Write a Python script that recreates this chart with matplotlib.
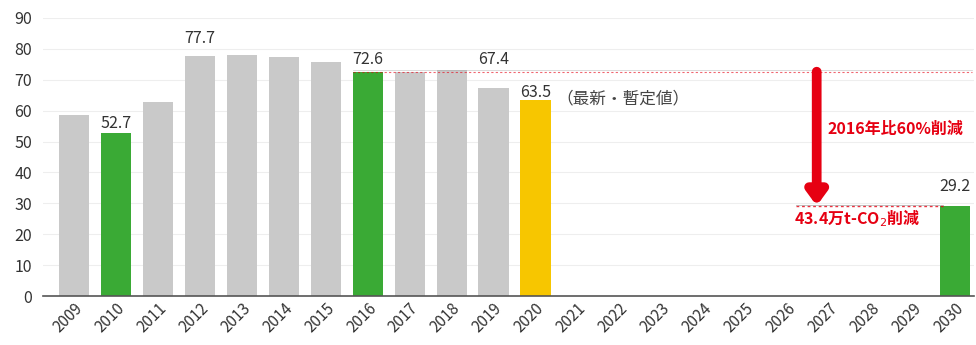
import matplotlib
matplotlib.use("Agg")
import matplotlib.pyplot as plt
import numpy as np

plt.rcParams['font.family'] = ['Noto Sans CJK JP', 'DejaVu Sans']

# 年度別排出量（万t-CO2）
years = [str(y) for y in range(2009, 2031)]
values = [58.6, 52.7, 62.8, 77.7, 78.0, 77.4, 75.7, 72.6, 72.5, 73.0, 67.4, 63.5,
          0, 0, 0, 0, 0, 0, 0, 0, 0, 29.2]
bar_kind = ["past", "base", "past", "past", "past", "past", "past", "base", "past", "past", "past", "latest",
            "none", "none", "none", "none", "none", "none", "none", "none", "none", "target"]
labelled = {"2010": 52.7, "2012": 77.7, "2016": 72.6, "2019": 67.4, "2020": 63.5, "2030": 29.2}

base_value = 72.6
target_value = 29.2
reduction = 43.4

kind_colors = {"past": "#c9c9c9", "base": "#3aaa35", "latest": "#f7c600",
               "target": "#3aaa35", "none": "none"}
red = "#e60012"

fig = plt.figure(figsize=(9.76, 3.45), dpi=100)
ax = fig.add_axes([0.044, 0.142, 0.954, 0.806])

x = np.arange(len(years))
colors = [kind_colors[k] for k in bar_kind]
ax.bar(x, values, width=0.72, color=colors, zorder=2)

ax.set_xlim(-0.74, len(years) - 0.55)
ax.set_ylim(0, 90)
ax.set_yticks(range(0, 91, 10))
ax.set_xticks(x)
ax.set_xticklabels(years, rotation=45, ha="right", rotation_mode="anchor")
ax.tick_params(axis="both", length=0, labelsize=11.5, colors="#333333")
ax.tick_params(axis="x", pad=3, labelsize=11)
ax.tick_params(axis="y", pad=8)
for s in ["top", "right", "left"]:
    ax.spines[s].set_visible(False)
ax.spines["bottom"].set_color("#555555")
ax.spines["bottom"].set_linewidth(1.2)
ax.yaxis.grid(True, color="#eeeeee", linewidth=0.8, zorder=0)

# 値ラベル（中心位置）
label_y = {"2010": 55.8, "2012": 83.5, "2016": 76.7,
           "2019": 76.7, "2020": 66.0, "2030": 35.6}
for yr, v in labelled.items():
    i = years.index(yr)
    ax.text(i, label_y[yr], f"{v}", ha="center", va="center", fontsize=11.5,
            color="#333333", zorder=4)

ax.text(11.5, 63.8, "（最新・暫定値）", ha="left", va="center", fontsize=12,
        color="#444444")

# 基準年ラインと目標ライン
ax.plot([6.65, len(years) - 0.6], [base_value, base_value], color=red,
        linestyle=(0, (2, 2)), linewidth=0.8, alpha=0.6, zorder=3)
ax.plot([6.65, len(years) - 0.6], [base_value + 0.6, base_value + 0.6], color="#999999",
        linewidth=0.5, alpha=0.5, zorder=3)
ax.plot([17.2, 20.7], [target_value, target_value], color=red,
        linestyle=(0, (2, 2)), linewidth=1.0, alpha=0.8, zorder=3)
ax.plot([17.2, 20.7], [target_value + 0.4, target_value + 0.4], color="#888888",
        linewidth=0.6, alpha=0.6, zorder=3)

# 削減量の矢印
ax.annotate("", xy=(17.7, target_value), xytext=(17.7, base_value),
            arrowprops=dict(arrowstyle="-|>,head_width=0.55,head_length=0.75",
                            color=red, lw=7, shrinkA=0, shrinkB=0), zorder=5)

ax.text(17.95, 54.0, "2016年比60%削減", ha="left", va="center", fontsize=11.5,
        color=red, fontweight="bold")
ax.text(17.15, 25.2, "43.4万t-CO$_2$削減", ha="left", va="center", fontsize=11.5,
        color=red, fontweight="bold")

fig.savefig("out.png", dpi=100)
